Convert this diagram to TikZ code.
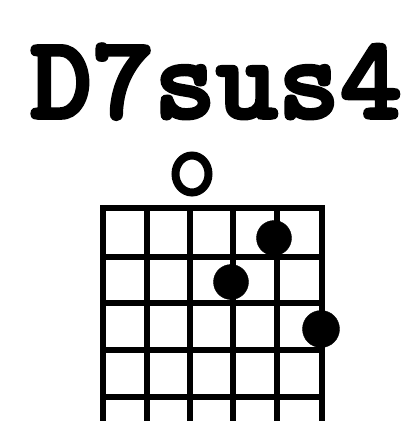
\documentclass[tikz,border=0pt]{standalone}
\usepackage{fontspec}
\newfontfamily\chordfont[FakeBold=3]{lmmonolt10-bold.otf}

\begin{document}
\begin{tikzpicture}[x = 1pt, y = -1pt]
  % Fix the page size
  \useasboundingbox (0,0) rectangle (418,421);

  % Chord name
  \node[anchor = base, inner sep = 0pt] (name) at (216,118)
    {\chordfont\fontsize{118}{125}\selectfont D7sus4};

  % Open string marker
  \draw[line width = 8pt] (192,174) ellipse (16.5 and 18.5);   % Open 4th string

  % Draw the grid outline (nut and outer strings)
  \draw[line width = 6pt, line join = miter] (103,421)--(103,208)--(322,208)--(322,421);

  % Inner strings
  \draw[line width = 6pt] (147,208)--(147,421);            % 5th string
  \draw[line width = 6pt] (190,208)--(190,421);            % 4th string
  \draw[line width = 6pt] (233,208)--(233,421);            % 3rd string
  \draw[line width = 6pt] (277,208)--(277,421);            % 2nd string

  % Frets
  \draw[line width = 6pt] (103,257)--(322,257);            % Fret 1
  \draw[line width = 6pt] (103,303)--(322,303);            % Fret 2
  \draw[line width = 6pt] (103,350)--(322,350);            % Fret 3
  \draw[line width = 6pt] (100,397)--(325,397);            % Fret 4

  % Finger dots
  \draw[fill = black] (274,238) circle (17.5);             % 2nd string, fret 1
  \draw[fill = black] (231,282) circle (17.5);             % 3rd string, fret 2
  \draw[fill = black] (321,329) circle (18.5);             % 1st string, fret 3
\end{tikzpicture}
\end{document}
